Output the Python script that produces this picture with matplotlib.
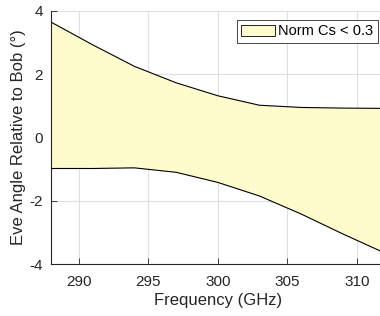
import numpy as np
import matplotlib
matplotlib.use('Agg')
import matplotlib.pyplot as plt
from matplotlib.patches import Patch

plt.rcParams['font.family'] = ['Liberation Sans', 'DejaVu Sans']
plt.rcParams['axes.unicode_minus'] = False

# Datos
freq = np.array([288, 291, 294, 297, 300, 303, 306, 309, 312])
upper = np.array([3.65, 2.93, 2.25, 1.73, 1.32, 1.02, 0.95, 0.93, 0.92])
lower = np.array([-0.98, -0.98, -0.96, -1.1, -1.42, -1.85, -2.42, -3.05, -3.65])
xticks = [290, 295, 300, 305, 310]
yticks = [-4, -2, 0, 2, 4]

fig = plt.figure(figsize=(3.8, 3.16), dpi=100)
W, H = 380, 316
ax = fig.add_axes([51 / W, (H - 264) / H, (384.6 - 51) / W, (264 - 11) / H])

ax.fill_between(freq, lower, upper, facecolor='#fefbcd', edgecolor='none', zorder=2)
ax.plot(freq, upper, color='k', lw=0.8, zorder=3)
ax.plot(freq, lower, color='k', lw=0.8, zorder=3)

ax.set_xlim(288, 312)
ax.set_ylim(-4, 4)
ax.set_xticks(xticks)
ax.set_yticks(yticks)
ax.grid(True, color='#dfdfdf', lw=0.8, zorder=0)
ax.set_axisbelow(True)
ax.tick_params(direction='in', length=4, labelsize=11, colors='#262626', width=0.6)
ax.tick_params(axis='x', pad=8)
ax.tick_params(axis='y', pad=6)
for s in ['top', 'right']:
    ax.spines[s].set_visible(False)
for s in ['left', 'bottom']:
    ax.spines[s].set_color('#262626')
    ax.spines[s].set_linewidth(0.8)

ax.set_xlabel('Frequency (GHz)', fontsize=12, color='#262626', labelpad=3)
ax.set_ylabel('Eve Angle Relative to Bob (°)', fontsize=12, color='#262626', labelpad=2)

leg = ax.legend(handles=[Patch(facecolor='#fefbcd', edgecolor='k', lw=0.6, label='Norm Cs < 0.3')],
                loc='upper right', bbox_to_anchor=((378 - 51) / (384.6 - 51), 1 - 9 / 253),
                fontsize=10.5, fancybox=False, framealpha=1, edgecolor='#262626',
                handlelength=2.3, handleheight=0.8, handletextpad=0.25,
                borderpad=0.3, borderaxespad=0)
leg.get_frame().set_linewidth(0.6)

fig.savefig('out.png', dpi=100)
